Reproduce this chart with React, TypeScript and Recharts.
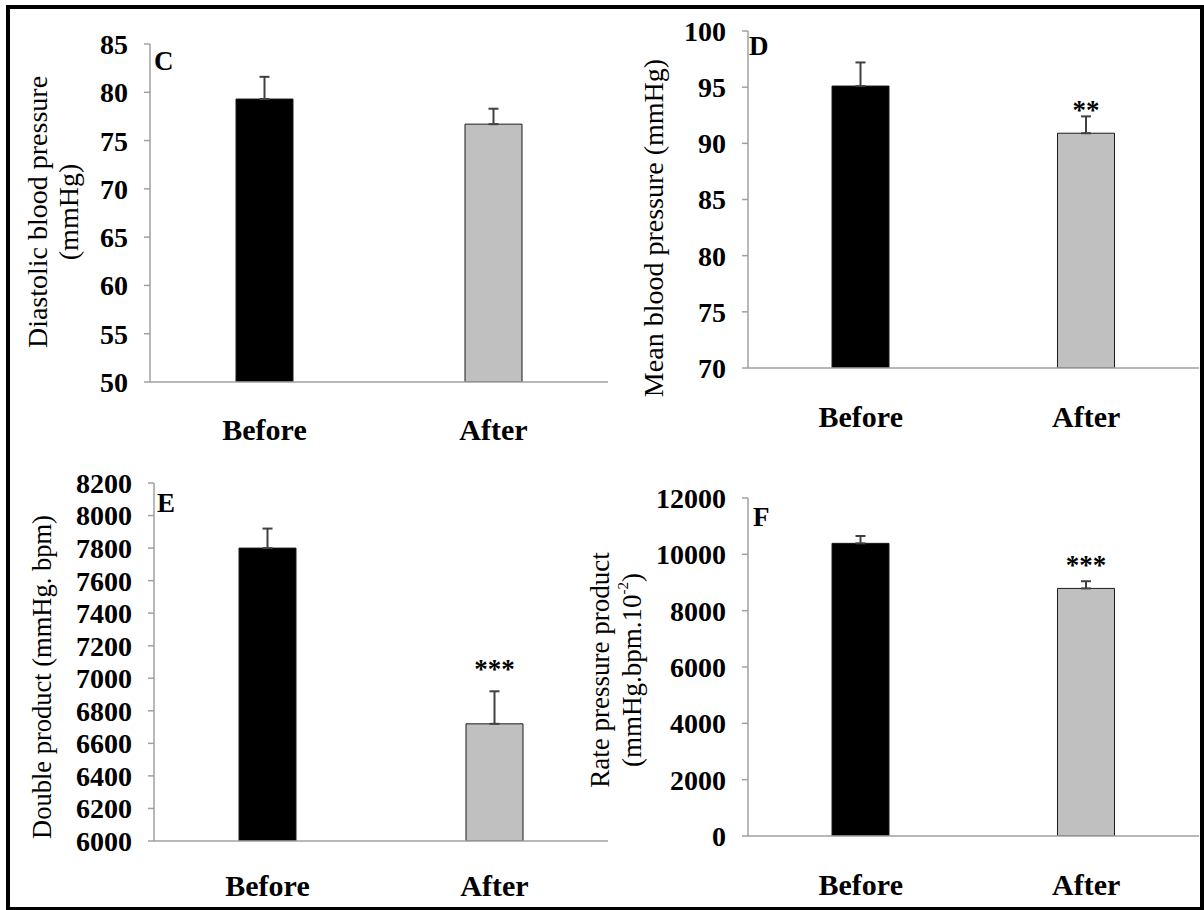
import React from 'react'
import { BarChart, Bar, XAxis, YAxis, ErrorBar, Cell, Label, LabelList } from 'recharts'

// values (mean, one-sided SE, significance)
const groups = ['Before', 'After']

const diastolicMean = [79.3, 76.7]
const diastolicSe = [2.3, 1.6]
const diastolicSig = ['', '']
const diastolicTicks = [50, 55, 60, 65, 70, 75, 80, 85]

const meanBpMean = [95.1, 90.9]
const meanBpSe = [2.1, 1.5]
const meanBpSig = ['', '**']
const meanBpTicks = [70, 75, 80, 85, 90, 95, 100]

const doubleMean = [7800, 6720]
const doubleSe = [120, 200]
const doubleSig = ['', '***']
const doubleTicks = [6000, 6200, 6400, 6600, 6800, 7000, 7200, 7400, 7600, 7800, 8000, 8200]

const rppMean = [10390, 8790]
const rppSe = [260, 255]
const rppSig = ['', '***']
const rppTicks = [0, 2000, 4000, 6000, 8000, 10000, 12000]

const FONT = "'Liberation Serif', 'Times New Roman', Times, serif"
const barColors = ['#000000', '#c0c0c0']
const AXIS = '#a0a0a0'

type Layout = {
  left: number; top: number; width: number; height: number
  mTop: number; mRight: number; yWidth: number; xHeight: number; xTickMargin: number
  titleX: number[]; titleY: number; titleSize: number
  letterX: number; letterY: number; starGap: number
}

type PanelProps = {
  mean: number[]; se: number[]; sig: string[]; ticks: number[]
  letter: string; title: React.ReactNode[]; layout: Layout
}

function Panel({ mean, se, sig, ticks, letter, title, layout: L }: PanelProps) {
  const data = groups.map((g, i) => ({ group: g, value: mean[i], err: [0, se[i]], sig: sig[i] }))
  const lo = ticks[0]
  const hi = ticks[ticks.length - 1]

  const stars = (p: any) => {
    if (!p.value) return null
    const d = data[p.index]
    const k = p.height / (d.value - lo)
    const errTop = p.y - se[p.index] * k
    const cy = errTop - L.starGap
    return (
      <text x={p.x + p.width / 2} y={cy + 13} textAnchor="middle" fontFamily={FONT}
        fontWeight="bold" fontSize={27} fill="#000">{p.value}</text>
    )
  }

  const titleContent = () => (
    <g>
      {title.map((line, i) => (
        <text key={i} x={L.titleX[i]} y={L.titleY} textAnchor="middle" dominantBaseline="central"
          transform={`rotate(-90 ${L.titleX[i]} ${L.titleY})`}
          fontFamily={FONT} fontSize={L.titleSize} fill="#000">{line}</text>
      ))}
      <text x={L.letterX} y={L.letterY} fontFamily={FONT} fontWeight="bold" fontSize={27} fill="#000">
        {letter}
      </text>
    </g>
  )

  return (
    <div style={{ position: 'absolute', left: L.left, top: L.top }}>
      <BarChart width={L.width} height={L.height} data={data} barSize={57}
        margin={{ top: L.mTop, right: L.mRight, left: 0, bottom: 0 }}>
        <XAxis dataKey="group" height={L.xHeight} tickLine={false} tickSize={0}
          tickMargin={L.xTickMargin} axisLine={{ stroke: AXIS, strokeWidth: 1.5 }}
          tick={{ fill: '#000', fontSize: 30, fontWeight: 'bold', fontFamily: FONT }} />
        <YAxis type="number" domain={[lo, hi]} ticks={ticks} interval={0} width={L.yWidth}
          allowDataOverflow tickSize={6} tickMargin={16}
          axisLine={{ stroke: AXIS, strokeWidth: 1.5 }} tickLine={{ stroke: AXIS, strokeWidth: 1.5 }}
          tick={{ fill: '#000', fontSize: 28, fontWeight: 'bold', fontFamily: FONT }}>
          <Label content={titleContent} />
        </YAxis>
        <Bar dataKey="value" stroke="#1a1a1a" strokeWidth={1} isAnimationActive={false}>
          {data.map((_, i) => <Cell key={i} fill={barColors[i]} />)}
          <ErrorBar dataKey="err" width={5} stroke="#404040" strokeWidth={2} isAnimationActive={false} />
          <LabelList dataKey="sig" content={stars} />
        </Bar>
      </BarChart>
    </div>
  )
}

const layoutC: Layout = {
  left: 0, top: 0, width: 610, height: 450, mTop: 44, mRight: 2, yWidth: 150, xHeight: 68, xTickMargin: 37,
  titleX: [37, 68], titleY: 212, titleSize: 28, letterX: 154, letterY: 70, starGap: 0,
}
const layoutD: Layout = {
  left: 600, top: 0, width: 604, height: 450, mTop: 31, mRight: 5, yWidth: 148, xHeight: 82, xTickMargin: 38,
  titleX: [53], titleY: 228, titleSize: 28, letterX: 149, letterY: 55, starGap: 10,
}
const layoutE: Layout = {
  left: 0, top: 450, width: 610, height: 460, mTop: 33, mRight: 2, yWidth: 154, xHeight: 69, xTickMargin: 34,
  titleX: [42], titleY: 227, titleSize: 26.5, letterX: 157, letterY: 62, starGap: 26,
}
const layoutF: Layout = {
  left: 580, top: 450, width: 624, height: 460, mTop: 48, mRight: 5, yWidth: 168, xHeight: 74, xTickMargin: 38,
  titleX: [20, 52], titleY: 220, titleSize: 27, letterX: 173, letterY: 76, starGap: 20,
}

export default function App() {
  return (
    <div style={{ position: 'absolute', left: 0, top: 0, width: 1204, height: 910, background: '#fff', overflow: 'hidden' }}>
      <Panel mean={diastolicMean} se={diastolicSe} sig={diastolicSig} ticks={diastolicTicks} letter="C"
        title={['Diastolic blood pressure', '(mmHg)']} layout={layoutC} />
      <Panel mean={meanBpMean} se={meanBpSe} sig={meanBpSig} ticks={meanBpTicks} letter="D"
        title={['Mean blood pressure (mmHg)']} layout={layoutD} />
      <Panel mean={doubleMean} se={doubleSe} sig={doubleSig} ticks={doubleTicks} letter="E"
        title={['Double product (mmHg. bpm)']} layout={layoutE} />
      <Panel mean={rppMean} se={rppSe} sig={rppSig} ticks={rppTicks} letter="F"
        title={[
          'Rate pressure product',
          <>(mmHg.bpm.10<tspan fontSize={15} dy={-9}>-2</tspan><tspan dy={9}>)</tspan></>,
        ]} layout={layoutF} />
      {/* outer frame */}
      <div style={{ position: 'absolute', left: 6, top: 5, width: 1198, height: 906, border: '4px solid #000', boxSizing: 'border-box', pointerEvents: 'none' }} />
    </div>
  )
}
